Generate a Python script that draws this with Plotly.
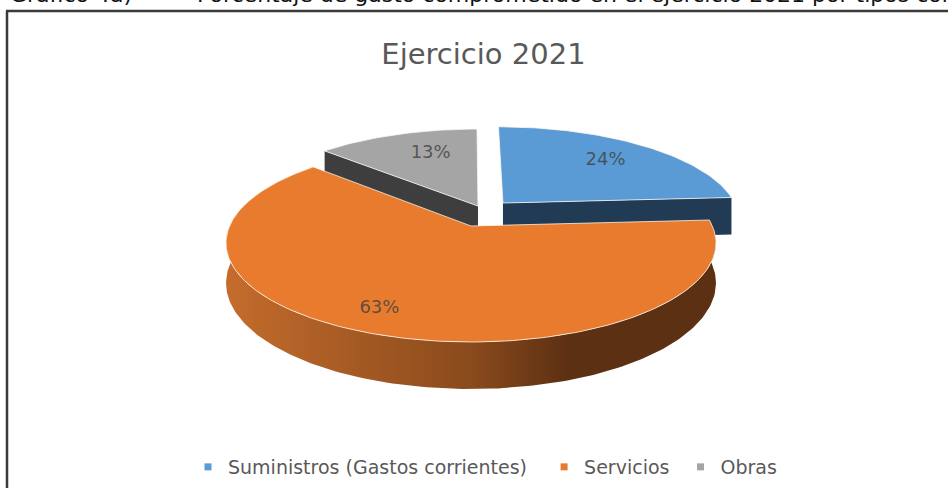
import math
import plotly.graph_objects as go

categories = ["Suministros (Gastos corrientes)", "Servicios", "Obras"]
values = [24, 63, 13]
labels = ["24%", "63%", "13%"]
top_colors = ["#5B9BD5", "#E97B2F", "#A5A5A5"]
cut_colors = ["#213B55", "#5C3012", "#3E3E3E"]
explode_x = [0.138, 0.0, 0.030]
explode_y = [0.2487, 0.0, 0.2145]
label_radius = [0.72, 0.82, 0.68]
label_shift = [0.0, 4.0, 4.4]
legend_padding = ["\u00a0\u00a0", "\u00a0", ""]

CX, CY, A, B, K, H = 471.0, 226.0, 241.4, 96.3, 0.17, 39.0
FONT = "DejaVu Sans"
GREY = "#595959"


def project(X, Y, z=0.0):
    w = 1 + K * Y
    return CX + A * X / w, CY - B * Y / w + z * H / w


def rim(t, dx, dy, z=0.0):
    r = math.radians(t)
    return project(dx + math.sin(r), dy + math.cos(r), z)


def poly(points, fill, line="rgba(255,255,255,0)", width=0):
    xs = [p[0] for p in points]
    ys = [p[1] for p in points]
    return go.Scatter(x=xs, y=ys, mode="lines", fill="toself", fillcolor=fill,
                      line=dict(color=line, width=width), hoverinfo="skip", showlegend=False)


total = sum(values)
starts, ends = [], []
acc = 0.0
for v in values:
    starts.append(acc * 360 / total)
    acc += v
    ends.append(acc * 360 / total)


def arc(i, z=0.0, step=1.0):
    n = max(2, int((ends[i] - starts[i]) / step))
    return [rim(starts[i] + (ends[i] - starts[i]) * j / n, explode_x[i], explode_y[i], z) for j in range(n + 1)]


fig = go.Figure()
PALE = "rgba(255,250,240,0.75)"

# Grey slice, then blue slice (behind the orange one)
for i, edge in ((2, "start"), (0, "end")):
    dx, dy = explode_x[i], explode_y[i]
    t = starts[i] if edge == "start" else ends[i]
    fig.add_trace(poly([project(dx, dy), rim(t, dx, dy), rim(t, dx, dy, 1.0), project(dx, dy, 1.0)], cut_colors[i]))
    fig.add_trace(poly([project(dx, dy)] + arc(i) + [project(dx, dy)], top_colors[i], PALE, 1))

# Orange wall with its left-to-right shading
wall = arc(1) + arc(1, 1.0)[::-1]
wall_trace = poly(wall, top_colors[1])
wall_trace.update(fillgradient=dict(type="horizontal", start=226, stop=716,
                                    colorscale=[[0.0, "rgb(196,108,44)"], [0.5, "rgb(138,74,28)"],
                                                [0.7, "rgb(92,48,18)"], [1.0, "rgb(92,48,18)"]]))
fig.add_trace(wall_trace)
fig.add_trace(poly([project(0, 0)] + arc(1) + [project(0, 0)], top_colors[1], PALE, 1))

# Percentage labels
for i in range(3):
    mid = (starts[i] + ends[i]) / 2 + label_shift[i]
    r = math.radians(mid)
    x, y = project(explode_x[i] + label_radius[i] * math.sin(r), explode_y[i] + label_radius[i] * math.cos(r))
    fig.add_trace(go.Scatter(x=[x], y=[y], mode="text", text=[labels[i]], hoverinfo="skip", showlegend=False,
                             textfont=dict(family=FONT, size=18, color="rgba(64,64,64,0.8)")))

# Legend entries
for c, col, pad in zip(categories, top_colors, legend_padding):
    fig.add_trace(go.Scatter(x=[None], y=[None], mode="markers", name=c + pad,
                             marker=dict(symbol="square", size=7, color=col)))

# Frame (left and top edges of the embedded picture)
fig.add_shape(type="line", x0=7, x1=7, y0=11, y1=488, line=dict(color="#3A3A3A", width=2.5))
fig.add_shape(type="line", x0=6, x1=948, y0=11, y1=11, line=dict(color="#3A3A3A", width=2.5))

fig.add_annotation(xref="paper", yref="paper", x=8 / 948, y=1 - 9 / 488, xanchor="left", yanchor="bottom",
                   text="Gráfico 4a)", showarrow=False, font=dict(family=FONT, size=22, color="#111111"))
fig.add_annotation(xref="paper", yref="paper", x=195 / 948, y=1 - 9 / 488, xanchor="left", yanchor="bottom",
                   text="Porcentaje de gasto comprometido en el ejercicio 2021 por tipos con", showarrow=False,
                   font=dict(family=FONT, size=22, color="#111111"))

fig.update_layout(
    width=948, height=488, margin=dict(l=0, r=0, t=0, b=0),
    paper_bgcolor="white", plot_bgcolor="white",
    title=dict(text="Ejercicio 2021", x=483.5 / 948, y=1 - 54 / 488, xanchor="center", yanchor="middle",
               font=dict(family=FONT, size=29, color=GREY)),
    xaxis=dict(range=[0, 948], visible=False, fixedrange=True),
    yaxis=dict(range=[488, 0], visible=False, fixedrange=True),
    legend=dict(orientation="h", x=188 / 948, y=1 - 467 / 488, xanchor="left", yanchor="middle",
                font=dict(family=FONT, size=19, color=GREY), bgcolor="rgba(0,0,0,0)", itemclick=False),
)
fig.write_html("out.html", config={"displayModeBar": False},
               post_script="document.body.style.margin='0';document.body.style.overflow='hidden';")
